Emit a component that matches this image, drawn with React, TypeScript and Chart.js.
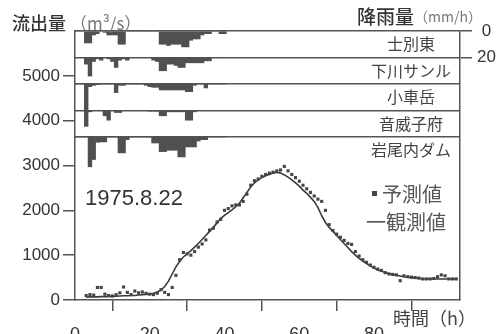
import React, { useEffect, useRef } from 'react';
import { Chart, registerables } from 'chart.js';

Chart.register(...registerables);

// ---- data ----
const stationNames = ['士別東', '下川サンル', '小車岳', '音威子府', '岩尾内ダム'];
const RAIN_START_HOUR = 0;
// hourly rainfall (mm/h), hours 0..40
const rainShibetsuHigashi = [0, 0, 0, 9, 9, 3, 2, 0, 1, 3, 3, 3, 10, 10, 0, 0, 0, 0, 0, 0, 0, 0, 0, 10, 10, 11, 10, 10, 10, 12, 12, 7, 6, 6, 3, 2, 2, 0, 0, 2, 2];
const rainShimokawaSanru = [0, 0, 0, 5, 14, 3, 1, 2, 0, 1, 3, 7.5, 2, 1, 2, 0, 0, 0, 0, 0, 0, 2, 3, 10, 10, 5, 5, 6, 7.5, 7.5, 4, 4, 4, 4, 4, 2.5, 2.5, 0, 0, 0, 0];
const rainKoguruma = [0, 0, 0, 32, 2, 1, 0.5, 0, 0, 0, 0, 6.5, 1, 1, 0, 0, 0, 0, 0, 1, 2, 2.5, 2.5, 4.5, 4.5, 4.5, 4.5, 4.5, 4.5, 4.5, 5.8, 5.8, 1, 0, 0, 3, 0, 0, 0, 0, 0];
const rainOtoineppu = [0, 0, 0, 0, 1, 0, 0, 0, 4, 7.3, 0, 1.5, 1.5, 0, 0, 0, 0, 0, 0, 0, 0.5, 0.5, 0.5, 4, 4, 1, 1, 1, 1, 1, 7.3, 7.3, 1, 0, 0, 0, 0, 0, 0, 0, 0];
const rainIwaonaiDam = [0, 0, 0, 0, 22.5, 17, 4, 3.7, 3.7, 0, 0, 0, 12, 12, 2, 0, 0, 0, 0, 0, 0, 4.5, 4.5, 11, 11, 10, 10, 10, 15, 15, 7.5, 7.5, 7.5, 3, 2, 2, 0, 0, 0, 0, 0];
const rainSeries = [rainShibetsuHigashi, rainShimokawaSanru, rainKoguruma, rainOtoineppu, rainIwaonaiDam];
const panelOffsets = [0, 20, 40, 60, 80];

const FLOW_START_HOUR = 3;
// observed discharge (m3/s), hours 3..102
const observedFlow = [
  60, 70, 70, 70, 75, 75, 80, 80, 85, 90,
  95, 95, 100, 100, 110, 120, 125, 130, 150, 180,
  220, 300, 420, 580, 740, 860, 960, 1030, 1100, 1180,
  1260, 1350, 1440, 1530, 1620, 1720, 1820, 1890, 1950, 2010,
  2080, 2160, 2280, 2400, 2520, 2610, 2680, 2730, 2770, 2800,
  2830, 2850, 2830, 2790, 2740, 2680, 2610, 2540, 2450, 2380,
  2290, 2200, 2060, 1880, 1730, 1620, 1530, 1440, 1350, 1260,
  1170, 1080, 1000, 930, 870, 810, 760, 710, 670, 640,
  615, 590, 570, 550, 535, 520, 510, 500, 490, 480,
  475, 470, 470, 470, 470, 470, 470, 470, 470, 470,
];
// predicted discharge (m3/s), hours 3..102
const predictedFlow = [
  100, 120, 110, 280, 280, 130, 100, 90, 120, 160,
  290, 170, 120, 200, 160, 180, 150, 130, 120, 150,
  230, 170, 120, 280, 550, 900, 1060, 1030, 1000, 1080,
  1180, 1250, 1340, 1560, 1600, 1740, 1800, 2000, 2040, 2100,
  2120, 2120, 2200, 2360, 2560, 2660, 2700, 2760, 2800, 2830,
  2850, 2880, 2900, 2980, 2880, 2800, 2730, 2650, 2560, 2480,
  2400, 2320, 2250, 2200, 2000, 1680, 1550, 1470, 1400, 1330,
  1260, 1240, 1080, 980, 900, 840, 780, 730, 690, 660,
  610, 580, 570, 560, 430, 540, 520, 510, 500, 490,
  470, 470, 470, 480, 520, 560, 540, 470, 470, 470,
];

const timeTicks = [0, 20, 40, 60, 80];
const flowTicks = [0, 1000, 2000, 3000, 4000, 5000];
const rainTicks = [0, 20, 40, 60, 80];
const rainTickLabels = ['0', '20', '', '', ''];

const AXIS = '#555';
const JP = '"Noto Sans CJK JP", "Noto Sans", sans-serif';

const textPlugin = {
  id: 'hydroTexts',
  afterDraw(chart: any) {
    const ctx = chart.ctx;
    const yR = chart.scales.yR;
    ctx.save();
    ctx.textBaseline = 'middle';
    ctx.textAlign = 'left';
    // axis titles
    ctx.fillStyle = '#333';
    ctx.font = `500 18px ${JP}`;
    ctx.fillText('流出量', 12, 23);
    ctx.fillStyle = '#777';
    ctx.font = `17px ${JP}`;
    ctx.fillText('（m³/s）', 70, 24);
    ctx.fillStyle = '#333';
    ctx.font = `500 19px ${JP}`;
    ctx.fillText('降雨量', 357, 17);
    ctx.fillStyle = '#777';
    ctx.font = `14px ${JP}`;
    ctx.fillText('（mm/h）', 414, 17);
    ctx.fillStyle = '#444';
    ctx.font = `18px ${JP}`;
    ctx.fillText('時間（h）', 393, 318);
    // station labels
    ctx.fillStyle = '#444';
    ctx.font = `16px ${JP}`;
    ctx.textAlign = 'center';
    stationNames.forEach((name, i) => {
      ctx.fillText(name, 411, yR.getPixelForValue(panelOffsets[i] + 10));
    });
    // date
    ctx.textAlign = 'left';
    ctx.textBaseline = 'alphabetic';
    ctx.fillStyle = '#333';
    ctx.font = '22px "Liberation Sans", Arial, sans-serif';
    ctx.fillText('1975.8.22', 85, 205);
    // legend
    ctx.textBaseline = 'middle';
    ctx.fillStyle = '#444';
    ctx.fillRect(372, 191, 5, 5);
    ctx.fillStyle = '#555';
    ctx.font = `20px ${JP}`;
    ctx.fillText('予測値', 382, 194);
    ctx.fillText('一観測値', 366, 222);
    ctx.restore();
  },
};

export default function App() {
  const ref = useRef<HTMLCanvasElement>(null);
  useEffect(() => {
    if (!ref.current) return;
    Chart.defaults.font.family = '"Liberation Sans", Arial, sans-serif';
    Chart.defaults.color = '#333';

    const barSets = rainSeries.map((series, i) => ({
      type: 'bar' as const,
      label: stationNames[i],
      data: series.map((v, k) => ({ x: RAIN_START_HOUR + k, y: [panelOffsets[i], panelOffsets[i] + v] })),
      xAxisID: 'x',
      yAxisID: 'yR',
      backgroundColor: '#505050',
      borderWidth: 0,
      grouped: false,
      barPercentage: 1,
      categoryPercentage: 1,
      order: 3,
    }));

    const chart = new Chart(ref.current, {
      type: 'line',
      data: {
        datasets: [
          ...barSets,
          {
            type: 'line',
            label: '観測値',
            data: observedFlow.map((v, k) => ({ x: FLOW_START_HOUR + k, y: v })),
            xAxisID: 'x',
            yAxisID: 'y',
            borderColor: '#3a3a3a',
            borderWidth: 1.6,
            pointRadius: 0,
            tension: 0,
            order: 2,
          },
          {
            type: 'line',
            label: '予測値',
            data: predictedFlow.map((v, k) => ({ x: FLOW_START_HOUR + k, y: v })),
            xAxisID: 'x',
            yAxisID: 'y',
            showLine: false,
            pointStyle: 'rect',
            pointRadius: 2.2,
            pointBorderWidth: 0,
            pointBackgroundColor: '#444',
            order: 1,
          },
        ] as any,
      },
      options: {
        responsive: false,
        animation: false,
        layout: { padding: { top: 31, left: 0, right: 0, bottom: 0 } },
        plugins: { legend: { display: false }, tooltip: { enabled: false }, title: { display: false } },
        scales: {
          x: {
            type: 'linear',
            min: 0,
            max: 103,
            offset: false,
            afterBuildTicks: (s: any) => { s.ticks = timeTicks.map((v) => ({ value: v })); },
            afterFit: (s: any) => { s.height = 34; },
            grid: { drawOnChartArea: false, drawTicks: true, tickLength: 11, tickColor: AXIS, lineWidth: 1.5 },
            border: { display: true, color: AXIS, width: 1.5 },
            ticks: { font: { size: 18 }, color: '#333', padding: 13, maxRotation: 0, callback: (v: any) => String(v) },
          },
          y: {
            type: 'linear',
            position: 'left',
            min: 0,
            max: 6000,
            afterBuildTicks: (s: any) => { s.ticks = flowTicks.map((v) => ({ value: v })); },
            afterFit: (s: any) => { s.width = 75; },
            grid: { drawOnChartArea: false, drawTicks: true, tickLength: 12, tickColor: AXIS, lineWidth: 1.5 },
            border: { display: true, color: AXIS, width: 1.5 },
            ticks: { font: { size: 17 }, color: '#333', padding: 3, callback: (v: any) => String(v) },
          },
          yR: {
            type: 'linear',
            position: 'right',
            reverse: true,
            min: 0,
            max: 203,
            afterBuildTicks: (s: any) => { s.ticks = rainTicks.map((v) => ({ value: v })); },
            afterFit: (s: any) => { s.width = 39; },
            grid: {
              drawOnChartArea: true,
              drawTicks: true,
              tickLength: 12,
              color: AXIS,
              lineWidth: 1.5,
              tickColor: (c: any) => (c.tick && c.tick.value <= 20 ? AXIS : 'rgba(0,0,0,0)'),
            },
            border: { display: true, color: AXIS, width: 1.5 },
            ticks: {
              font: { size: 17 },
              color: '#333',
              padding: 5,
              crossAlign: 'center',
              callback: (_v: any, i: number) => rainTickLabels[i],
            },
          },
        },
      } as any,
      plugins: [textPlugin],
    });
    return () => chart.destroy();
  }, []);

  return (
    <div style={{ position: 'absolute', left: 0, top: 0, width: 499, height: 334, background: '#fff' }}>
      <canvas ref={ref} width={499} height={334} style={{ display: 'block' }} />
    </div>
  );
}
